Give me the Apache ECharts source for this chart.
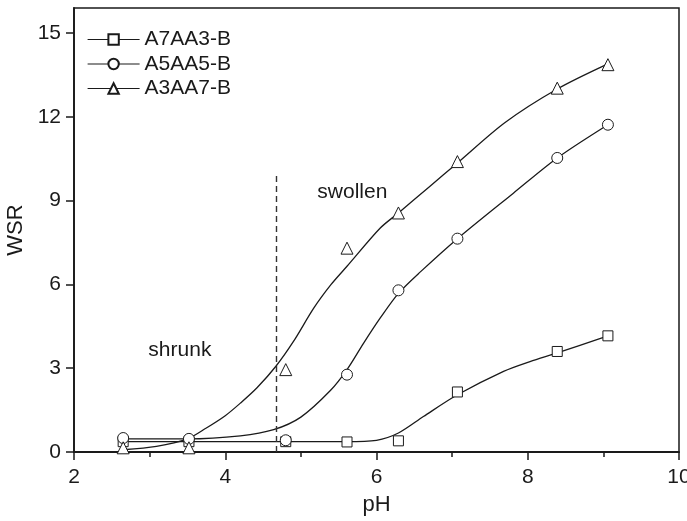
<!DOCTYPE html>
<html>
<head>
<meta charset="utf-8">
<script src="https://cdn.jsdelivr.net/npm/echarts@6/dist/echarts.min.js"></script>
<style>
  html, body { margin: 0; padding: 0; background: #fff; }
  #main { width: 687px; height: 521px; }
</style>
</head>
<body>
<div id="main"></div>
<script>
// measured points
var pH = [2.65, 3.52, 4.8, 5.61, 6.29, 7.07, 8.39, 9.06]
var wsrA7 = [0.37, 0.37, 0.37, 0.36, 0.4, 2.15, 3.6, 4.16]
var wsrA5 = [0.5, 0.47, 0.42, 2.77, 5.79, 7.64, 10.53, 11.72]
var wsrA3 = [0.15, 0.15, 2.95, 7.3, 8.56, 10.4, 13.03, 13.87]

// fitted curves
var fitA7x = [2.65, 3.5, 4.8, 5.6, 6.0, 6.29, 6.62, 7.07, 7.68, 8.03, 8.39, 9.06]
var fitA7y = [0.37, 0.37, 0.37, 0.37, 0.42, 0.68, 1.27, 2.05, 2.89, 3.24, 3.55, 4.16]
var fitA5x = [2.65, 3.5, 4.2, 4.64, 5.0, 5.39, 5.61, 5.83, 6.05, 6.29, 6.58, 7.07, 7.81, 8.39, 9.06]
var fitA5y = [0.47, 0.47, 0.58, 0.8, 1.25, 2.2, 2.95, 3.9, 4.8, 5.68, 6.45, 7.64, 9.27, 10.53, 11.72]
var fitA3x = [2.65, 3.09, 3.5, 3.75, 4.0, 4.2, 4.42, 4.67, 4.9, 5.17, 5.4, 5.61, 6.05, 6.29, 6.7, 7.07, 7.7, 8.39, 9.06]
var fitA3y = [0.08, 0.2, 0.47, 0.86, 1.3, 1.75, 2.3, 3.07, 3.95, 5.15, 6.0, 6.65, 8.02, 8.56, 9.5, 10.35, 11.8, 13.0, 13.9]

var names = ['A7AA3-B', 'A5AA5-B', 'A3AA7-B']
var xTicks = [2, 4, 6, 8, 10]
var yTicks = [0, 3, 6, 9, 12, 15]
var divider = 4.67
var dividerTop = 10
var notes = [
    { text: 'shrunk', x: 3.4, y: 3.66 },
    { text: 'swollen', x: 5.68, y: 9.32 }
]

var zip = (xs, ys) => xs.map((x, i) => [x, ys[i]])

var font = 'Liberation Sans, Arial, Helvetica, sans-serif'
var ink = '#1a1a1a'

var Chart = echarts.init(document.getElementById('main'))

var curve = (data) => ({
    type: 'line',
    data: data,
    smooth: 0.3,
    showSymbol: false,
    symbol: 'none',
    silent: true,
    lineStyle: { color: ink, width: 1.3 },
    z: 2
})

var markers = (name, data, symbol, size) => ({
    name: name,
    type: 'line',
    data: data,
    symbol: symbol,
    symbolSize: size,
    showAllSymbol: true,
    lineStyle: { width: 0, color: ink },
    itemStyle: { color: '#fff', borderColor: ink, borderWidth: 1 },
    z: 5
})

var option = {
    animation: false,
    textStyle: { fontFamily: font },
    grid: {
        left: 74,
        right: 8,
        top: 8,
        bottom: 69,
        show: true,
        borderColor: ink,
        borderWidth: 1.5,
        containLabel: false,
        outerBoundsMode: 'none'
    },
    legend: {
        data: names,
        orient: 'vertical',
        left: 82,
        top: 24,
        itemWidth: 52,
        itemHeight: 13,
        itemGap: 3.5,
        lineStyle: { width: 1.2, color: ink },
        textStyle: { fontSize: 21, color: ink, fontFamily: font }
    },
    xAxis: {
        type: 'value',
        min: 2,
        max: 10,
        interval: 2,
        name: 'pH',
        nameLocation: 'middle',
        nameGap: 42,
        nameTextStyle: { fontSize: 22, color: ink },
        axisLine: { show: true, lineStyle: { color: ink, width: 1.8 } },
        axisTick: { show: true, length: 8, lineStyle: { color: ink, width: 1.5 }, customValues: xTicks },
        minorTick: { show: true, splitNumber: 2, length: 5, lineStyle: { color: ink, width: 1.5 } },
        axisLabel: { fontSize: 21, color: ink, margin: 15, customValues: xTicks },
        splitLine: { show: false }
    },
    yAxis: {
        type: 'value',
        min: 0,
        max: 15.9,
        interval: 3,
        name: 'WSR',
        nameLocation: 'middle',
        nameGap: 40,
        nameTextStyle: { fontSize: 22, color: ink },
        axisLine: { show: true, lineStyle: { color: ink, width: 1.8 } },
        axisTick: { show: true, length: 8, lineStyle: { color: ink, width: 1.5 }, customValues: yTicks },
        axisLabel: { fontSize: 21, color: ink, margin: 13, customValues: yTicks },
        splitLine: { show: false }
    },
    series: [
        curve(zip(fitA7x, fitA7y)),
        curve(zip(fitA5x, fitA5y)),
        Object.assign(curve(zip(fitA3x, fitA3y)), {
            markLine: {
                silent: true,
                symbol: 'none',
                label: { show: false },
                lineStyle: { color: '#333', width: 1.4, type: [6, 4] },
                data: [[{ coord: [divider, 0] }, { coord: [divider, dividerTop] }]]
            },
            markPoint: {
                silent: true,
                symbol: 'circle',
                symbolSize: 1,
                itemStyle: { color: 'rgba(0,0,0,0)' },
                label: { show: true, position: 'inside', fontSize: 21, color: ink, fontFamily: font, formatter: (p) => p.name },
                data: notes.map(n => ({ name: n.text, coord: [n.x, n.y] }))
            }
        }),
        markers(names[0], zip(pH, wsrA7), 'rect', 10),
        markers(names[1], zip(pH, wsrA5), 'circle', 11),
        markers(names[2], zip(pH, wsrA3), 'triangle', 12)
    ]
}
Chart.setOption(option)
</script>
</body>
</html>
